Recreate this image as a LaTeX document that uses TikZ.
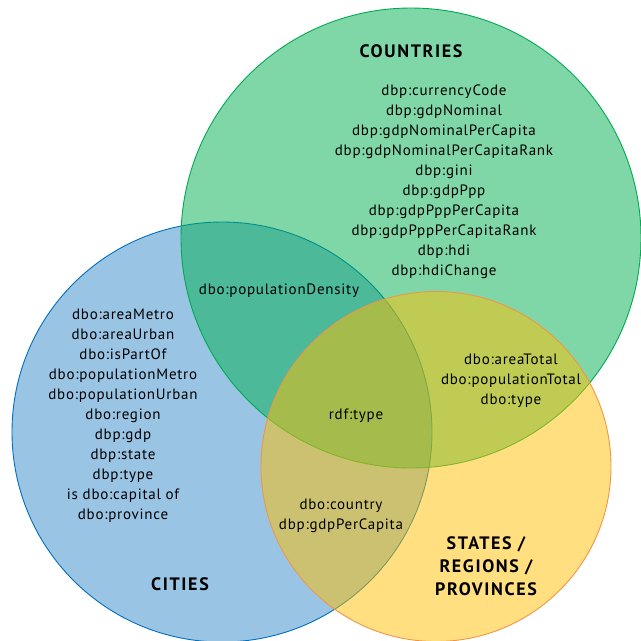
\documentclass[tikz,border=0pt]{standalone}
\usepackage{fontspec}
\setmainfont{PT Sans}
\newfontfamily\lblfont[LetterSpace=5]{PT Sans}
\newfontfamily\ttlfont[LetterSpace=9]{PT Sans}
\definecolor{gfill}{RGB}{0,176,80}
\definecolor{bfill}{RGB}{53,137,201}
\definecolor{yfill}{RGB}{255,192,0}
\definecolor{gline}{RGB}{0,170,80}
\definecolor{bline}{RGB}{0,112,192}
\definecolor{yline}{RGB}{240,150,70}
\begin{document}
\begin{tikzpicture}[x=1pt,y=-1pt,
  setcirc/.style={circle, inner sep=0pt, fill opacity=0.5, line width=0.9pt},
  lbl/.style={align=center, font=\lblfont\fontsize{15}{20}\selectfont, inner sep=0pt},
  ttl/.style={align=center, font=\ttlfont\fontsize{18}{23}\selectfont\bfseries, inner sep=0pt}]
\useasboundingbox (0,0) rectangle (641,641);
\node[setcirc, draw=bline, fill=bfill, minimum size=420pt] (cities) at (222,432) {};
\node[setcirc, draw=gline, fill=gfill, minimum size=460pt] (countries) at (411,238) {};
\node[setcirc, draw=yline, fill=yfill, minimum size=350pt] (states) at (436,466.5) {};
\node[ttl] (tcountries) at (411,51) {COUNTRIES};
\node[lbl] (lcountries) at (444,182) {dbp:currencyCode\\dbp:gdpNominal\\dbp:gdpNominalPerCapita\\dbp:gdpNominalPerCapitaRank\\dbp:gini\\dbp:gdpPpp\\dbp:gdpPppPerCapita\\dbp:gdpPppPerCapitaRank\\dbp:hdi\\dbp:hdiChange};
\node[lbl] (lcc) at (279,291) {dbo:populationDensity};
\node[lbl] (lcities) at (123,416) {dbo:areaMetro\\dbo:areaUrban\\dbo:isPartOf\\dbo:populationMetro\\dbo:populationUrban\\dbo:region\\dbp:gdp\\dbp:state\\dbp:type\\is dbo:capital of\\dbo:province};
\node[ttl] (tcities) at (180,584) {CITIES};
\node[lbl] (lall) at (356,416) {rdf:type};
\node[lbl] (lcs) at (511,380.5) {dbo:areaTotal\\dbo:populationTotal\\dbo:type};
\node[lbl] (lcis) at (341,516) {dbo:country\\dbp:gdpPerCapita};
\node[ttl] (tstates) at (486,566) {STATES /\\REGIONS /\\PROVINCES};
\end{tikzpicture}
\end{document}
